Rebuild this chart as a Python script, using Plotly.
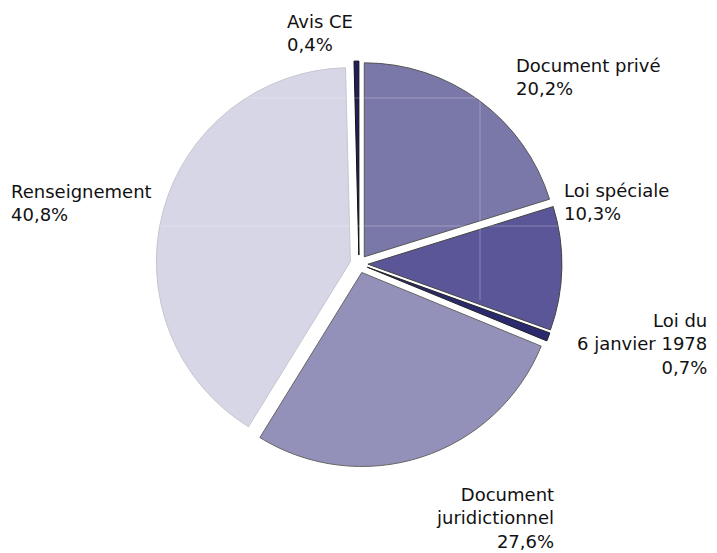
import plotly.graph_objects as go

labels = ["Document privé", "Loi spéciale", "Loi du 6 janvier 1978",
          "Document juridictionnel", "Renseignement", "Avis CE"]
display = ["Document privé", "Loi spéciale", "Loi du<br>6 janvier 1978",
           "Document<br>juridictionnel", "Renseignement", "Avis CE"]
values = [20.2, 10.3, 0.7, 27.6, 40.8, 0.4]
colors = ["#7a78a9", "#5b5697", "#2b2a6e", "#9391b9", "#d7d6e6", "#1f1f5a"]
line_colors = ["#555555", "#444444", "#222222", "#666666", "#c6c6ce", "#111111"]

# page offset (browser body margin) and figure size
OFF = 8
W, H = 717 - OFF, 553 - OFF

# label placement: screen pixel (x of text edge, y of block centre), alignment
label_pos = [(517, 77, "left"), (565, 202, "left"), (706, 344, "right"),
             (553, 518, "right"), (12, 203, "left"), (288, 33, "left")]

# pie centre & radius in screen pixels
cx, cy, R, pull = 359, 264, 194, 0.046
half = R * (1 + pull)
fcx, fcy = cx - OFF, cy - OFF

fig = go.Figure(go.Pie(
    labels=labels, values=values, sort=False, direction="clockwise", rotation=0,
    marker=dict(colors=colors, line=dict(color=line_colors, width=1)),
    pull=[pull] * len(values), textinfo="none", hoverinfo="label+percent",
    domain=dict(x=[(fcx - half) / W, (fcx + half) / W],
                y=[(H - fcy - half) / H, (H - fcy + half) / H]),
    showlegend=False,
))

for d, v, (px, py, al) in zip(display, values, label_pos):
    pct = f"{v:.1f}".replace(".", ",") + "%"
    dx = -3 if al == "left" else 3
    fig.add_annotation(
        x=(px - OFF + dx) / W, y=1 - (py - OFF) / H, xref="paper", yref="paper",
        xanchor=al, yanchor="middle", align=al, showarrow=False,
        text=f"{d}<br>{pct}",
        font=dict(family="DejaVu Sans, Liberation Sans, Arial, sans-serif", size=18, color="#111111"),
    )

# faint background grid lines visible through the pie
grid = "rgba(255,255,255,0.28)"
for gy in (98, 226):
    fig.add_shape(type="line", xref="paper", yref="paper", x0=0, x1=1,
                  y0=1 - (gy - OFF) / H, y1=1 - (gy - OFF) / H,
                  line=dict(color=grid, width=1), layer="above")
fig.add_shape(type="line", xref="paper", yref="paper",
              x0=(480 - OFF) / W, x1=(480 - OFF) / W,
              y0=1 - (98 - OFF) / H, y1=1 - (300 - OFF) / H,
              line=dict(color=grid, width=1), layer="above")

fig.update_layout(width=W, height=H, margin=dict(l=0, r=0, t=0, b=0),
                  paper_bgcolor="white", plot_bgcolor="white")
fig.write_html("out.html")
